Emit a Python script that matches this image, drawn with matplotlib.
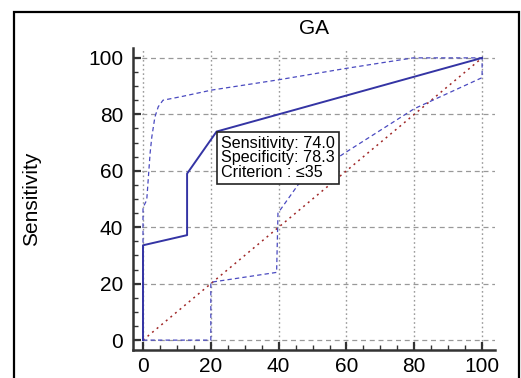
import matplotlib
matplotlib.use("Agg")
import matplotlib.pyplot as plt
from matplotlib.patches import Rectangle
from matplotlib.ticker import MultipleLocator

# ROC curve (100 - Specificity, Sensitivity)
roc_x = [0, 0, 13, 13, 21.7, 100]
roc_y = [0, 33.6, 37.2, 59, 73.9, 100]

# Upper confidence bound
upper_x = [0, 0, 1.1, 2.1, 2.6, 3.5, 4.5, 5.9, 11.4, 20.3, 39.8, 60, 79.7, 100]
upper_y = [0, 47, 49.6, 66.3, 72, 79, 82.7, 85, 86.3, 88.6, 92.2, 96.3, 100, 100]

# Lower confidence bound
lower_x = [0, 20, 20, 39.4, 39.8, 46.3, 60, 80, 100, 100]
lower_y = [0, 0, 20.5, 24, 45, 56, 66.7, 82, 93, 100]

# Reference diagonal
diag_x = [0, 100]
diag_y = [0, 100]

title = "GA"
ylabel = "Sensitivity"
ticks = [0, 20, 40, 60, 80, 100]
box_text = "Sensitivity: 74.0\nSpecificity: 78.3\nCriterion : \u226435"
box_xy = (21.7, 73.9)

plt.rcParams['font.family'] = ['Liberation Sans', 'DejaVu Sans']

W, H = 521, 378
fig = plt.figure(figsize=(W / 100, H / 100), dpi=100)
fig.patch.set_facecolor('white')

# outer frame
fig.patches.append(Rectangle((14 / W, -0.05), (519 - 14) / W, 1 - 11.5 / H + 0.05,
                             transform=fig.transFigure, fill=False,
                             edgecolor='black', linewidth=1.6, zorder=0))

ax = fig.add_axes([133 / W, 1 - 350 / H, (495 - 133) / W, (350 - 48) / H])
ax.set_xlim(-2.95, 103.8)
ax.set_ylim(-3.5, 103.5)
ax.patch.set_alpha(0)

for s in ['top', 'right']:
    ax.spines[s].set_visible(False)
for s in ['left', 'bottom']:
    ax.spines[s].set_linewidth(1.8)
    ax.spines[s].set_color('#333333')

ax.set_xticks(ticks)
ax.set_yticks(ticks)
ax.xaxis.set_minor_locator(MultipleLocator(5))
ax.yaxis.set_minor_locator(MultipleLocator(5))
ax.tick_params(which='major', direction='in', length=6, width=1.6, color='#333333',
               labelsize=15, pad=5)
ax.tick_params(which='minor', direction='in', length=3.5, width=1.0, color='#333333')
ax.tick_params(axis='y', which='major', pad=7)

# grid
for t in ticks:
    ax.axvline(t, color='#999999', linestyle=(0, (1.2, 2.0)), linewidth=1.0, zorder=1)
    ax.axhline(t, color='#999999', linestyle=(0, (4, 3)), linewidth=0.9, zorder=1)

ax.plot(diag_x, diag_y, color='#a02828', linestyle=(0, (1.3, 2.6)), linewidth=1.1, zorder=2)
ax.plot(upper_x, upper_y, color='#4a4ac0', linestyle=(0, (3.5, 2.5)), linewidth=0.9, zorder=3)
ax.plot(lower_x, lower_y, color='#4a4ac0', linestyle=(0, (3.5, 2.5)), linewidth=0.9, zorder=3)
ax.plot(roc_x, roc_y, color='#3434a4', linewidth=1.4, zorder=4)

ax.set_title(title, fontsize=15, pad=10)
ax.set_ylabel(ylabel, fontsize=15)
ax.yaxis.set_label_coords(-0.255, 0.5)

ax.annotate(box_text, xy=box_xy, xytext=(3.0, -3.0), textcoords='offset points',
            ha='left', va='top', fontsize=11.6, linespacing=0.95, zorder=6,
            bbox=dict(boxstyle='square,pad=0.25', facecolor='white',
                      edgecolor='#222222', linewidth=1.2))

fig.savefig('out.png', dpi=100)
